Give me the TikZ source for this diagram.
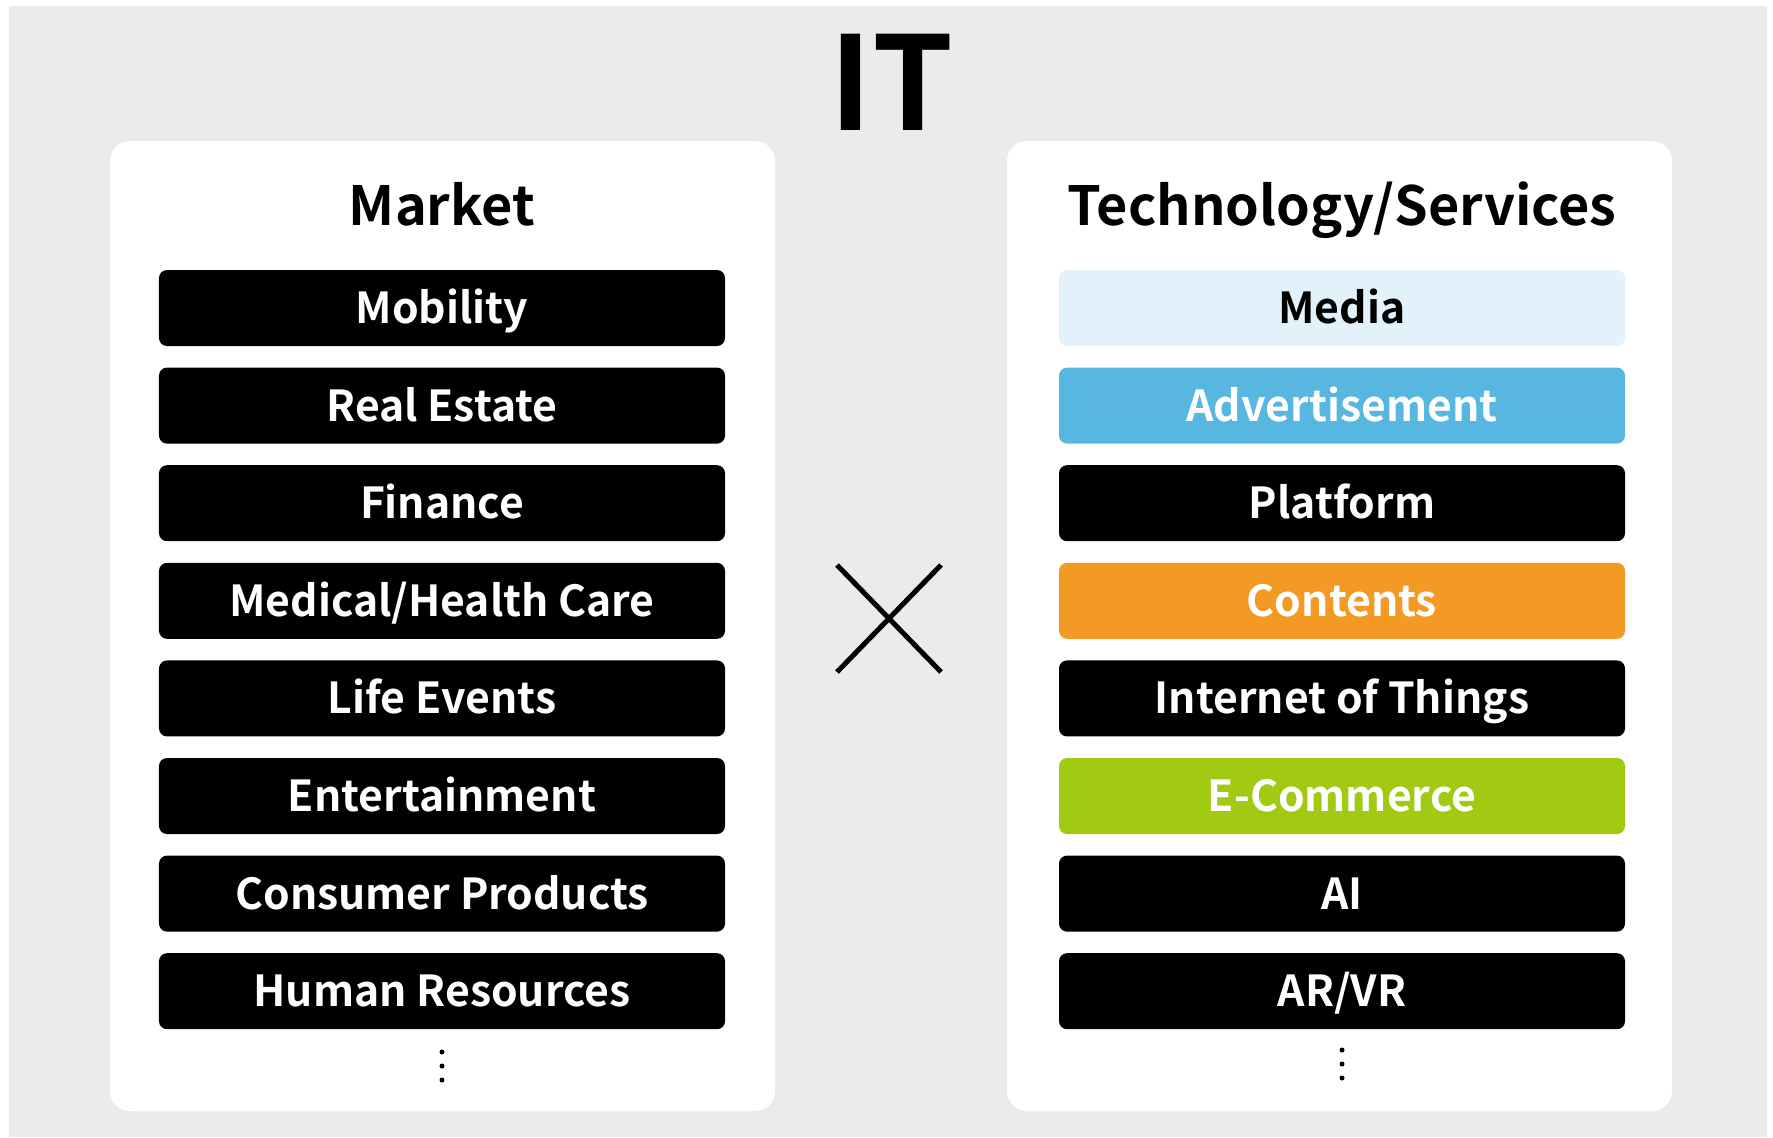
\documentclass[tikz,border=0pt]{standalone}
\usepackage{fontspec}
\newfontfamily\labelfont{Noto Sans CJK JP Bold}
\definecolor{canvas}{HTML}{EBEBEB}
\definecolor{mediablue}{HTML}{E3F2FA}
\definecolor{adblue}{HTML}{57B7E0}
\definecolor{contorange}{HTML}{F29A24}
\definecolor{ecgreen}{HTML}{A1CA13}
\begin{document}
\begin{tikzpicture}[x=1bp,y=-1bp,
  panel/.style={fill=white, rounded corners=20bp},
  bar/.style={fill=black, text=white, rounded corners=8bp, minimum width=566bp,
    minimum height=76bp, inner sep=0pt, font=\labelfont\fontsize{42.7bp}{42.7bp}\selectfont,
    text height=31bp, text depth=0bp},
  heading/.style={inner sep=0pt, anchor=base, font=\labelfont\fontsize{54bp}{54bp}\selectfont},
  dot/.style={fill=black, circle, inner sep=0pt, minimum size=5bp}]
\useasboundingbox (0,0) rectangle (1773,1137);
% background
\fill[canvas] (9,6) rectangle (1767,1137);
\node[inner sep=0pt, anchor=base, font=\labelfont\fontsize{130bp}{130bp}\selectfont] (title) at (892,130) {IT};
% panels
\fill[panel] (110,141) rectangle (775,1111);
\fill[panel] (1007,141) rectangle (1672,1111);
\node[heading] (market) at (442,225) {Market};
\node[heading] (tech) at (1342,225) {Technology/Services};
% market bars
\foreach \t [count=\i] in {Mobility,Real Estate,Finance,Medical/Health Care,Life Events,Entertainment,Consumer Products,Human Resources}
  \node[bar] (m\i) at (442,{308+97.6*(\i-1)}) {\t};
% technology bars
\foreach \t/\bg/\fg [count=\i] in {Media/mediablue/black, Advertisement/adblue/white,
    Platform/black/white, Contents/contorange/white, Internet of Things/black/white,
    E-Commerce/ecgreen/white, AI/black/white, AR\slash VR/black/white}
  \node[bar, fill=\bg, text=\fg] (t\i) at (1342,{308+97.6*(\i-1)}) {\t};
% continuation dots
\foreach \y in {1052,1066,1080} {
  \node[dot] at (442,\y) {};
  \node[dot] at (1342,\y-2) {};
}
% multiplication sign
\coordinate (xa) at (837,565); \coordinate (xb) at (941,672);
\coordinate (xc) at (941,565); \coordinate (xd) at (837,672);
\draw[line width=5bp] (xa) -- (xb) (xc) -- (xd);
\end{tikzpicture}
\end{document}
